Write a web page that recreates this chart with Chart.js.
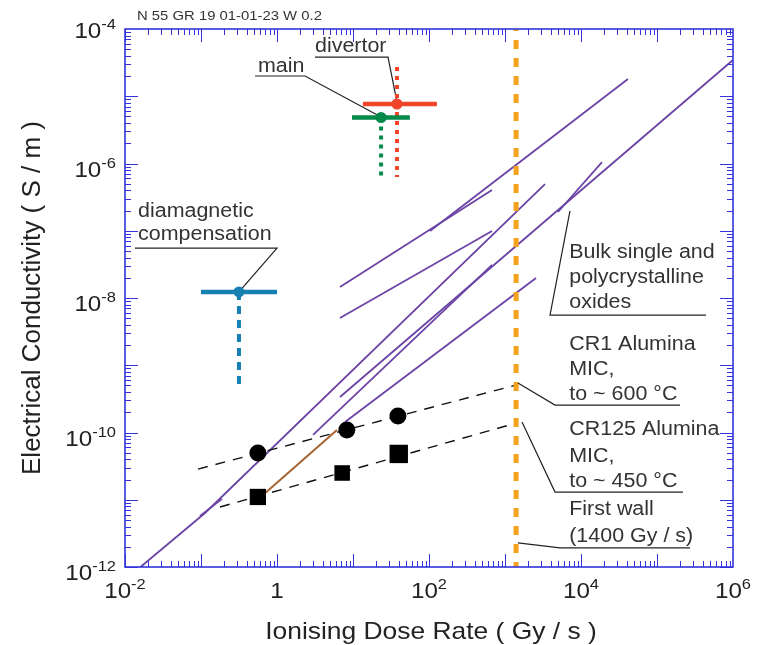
<!DOCTYPE html>
<html>
<head>
<meta charset="utf-8">
<script src="https://cdn.jsdelivr.net/npm/chart.js@4"></script>
<style>
  html, body { margin: 0; padding: 0; background: #fff; }
  #wrap { width: 758px; height: 645px; }
</style>
</head>
<body>
<div id="wrap"><canvas id="chart" width="758" height="645"></canvas></div>
<script>
// decades that carry a label
const xLabelExp = [-2, 0, 2, 4, 6];
const yLabelExp = [-12, -10, -8, -6, -4];

// bulk single and polycrystalline oxides, each line as [dose, cond, dose, cond, ...]
const oxideLines = [
  [0.016, 1e-12, 0.113, 6.35e-12, 3360, 4.95e-7],
  [6.74, 3.37e-10, 1e6, 3.46e-5],
  [2.98, 9.2e-11, 675, 3.1e-8],
  [7.85, 1.43e-10, 2560, 1.98e-8],
  [103, 9.9e-8, 41500, 1.81e-5],
  [6.74, 1.46e-8, 675, 4.04e-7],
  [6.74, 5.05e-9, 675, 9.9e-8],
  [4980, 1.9e-7, 18900, 1.05e-6],
  [0.097, 5.73e-12, 0.189, 1.03e-11]
];
const brownLine = [0.654, 1.18e-11, 6.15, 1.09e-10];

// CR1 alumina (circles) and CR125 alumina (squares)
const cr1Dose = [0.56, 8.3, 39];
const cr1Cond = [4.95e-11, 1.09e-10, 1.76e-10];
const cr125Dose = [0.56, 7.2, 40];
const cr125Cond = [1.1e-11, 2.5e-11, 4.8e-11];
const cr1Fit = [0.0914, 2.86e-11, 1400, 5.08e-10];
const cr125Fit = [0.178, 7.8e-12, 1400, 1.38e-10];

// first wall dose rate
const firstWall = 1400;

// estimated conditions: divertor, main, diamagnetic compensation
const fieldDose = [37.9, 23.4, 0.316];
const fieldDoseLo = [13.5, 9.7, 0.1];
const fieldDoseHi = [127, 56, 1];
const fieldCond = [7.67e-6, 4.83e-6, 1.23e-8];
const fieldCondTop = [2.72e-5, 4.83e-6, 1.23e-8];
const fieldCondLo = [6.3e-7, 6.3e-7, 4.75e-10];
const fieldColors = ['#f0452a', '#05894a', '#1780b2'];
const fieldDash = [[4, 5], [4, 5], [8, 6]];

// annotation leaders and texts (data coordinates)
const leaders = [
  [[3.16, 3.83e-5], [28.9, 3.83e-5], [37.9, 8.2e-6]],
  [[0.514, 2.0e-5], [2.34, 2.0e-5], [23.4, 4.9e-6]],
  [[0.01354, 5.53e-8], [1, 5.53e-8], [0.316, 1.23e-8]],
  [[7160, 1.97e-7], [3910, 5.58e-9], [441000, 5.58e-9]],
  [[1480, 5.45e-10], [4550, 2.56e-10], [201000, 2.56e-10]],
  [[1675, 1.43e-10], [4550, 1.30e-11], [220000, 1.30e-11]],
  [[1480, 2.28e-12], [5290, 1.92e-12], [272000, 1.92e-12]]
];
const notes = [
  ['divertor', 3.16, 4.55e-5],
  ['main', 0.562, 2.3e-5],
  ['diamagnetic', 0.01483, 1.6e-7],
  ['compensation', 0.01483, 7.28e-8],
  ['Bulk single and', 7000, 3.94e-8],
  ['polycrystalline', 7000, 1.67e-8],
  ['oxides', 7000, 7.1e-9],
  ['CR1 Alumina', 7000, 1.69e-9],
  ['MIC,', 7000, 7.17e-10],
  ['to ~ 600 \u00b0C', 7000, 3.04e-10],
  ['CR125 Alumina', 7000, 9.18e-11],
  ['MIC,', 7000, 3.64e-11],
  ['to ~ 450 \u00b0C', 7000, 1.55e-11],
  ['First wall', 7000, 5.93e-12],
  ['(1400 Gy / s)', 7000, 2.36e-12]
];

const PURPLE = '#6b44a6';
const AXIS = '#3434dc';
const TEXT = '#333333';
const FONT = '"Liberation Sans", Arial, sans-serif';
const SX = 1.1; // the original text is a bit wide

function pts(a) {
  const out = [];
  for (let i = 0; i < a.length; i += 2) out.push({ x: a[i], y: a[i + 1] });
  return out;
}

const datasets = [];

oxideLines.forEach((l) => {
  datasets.push({ data: pts(l), showLine: true, borderColor: PURPLE, borderWidth: 1.8, pointRadius: 0, order: 8 });
});
datasets.push({ data: pts(brownLine), showLine: true, borderColor: '#a8622e', borderWidth: 2, pointRadius: 0, order: 7 });

[cr1Fit, cr125Fit].forEach((f) => {
  datasets.push({ data: pts(f), showLine: true, borderColor: '#111', borderWidth: 1.4, borderDash: [10, 8], pointRadius: 0, order: 6 });
});

datasets.push({
  data: [{ x: firstWall, y: 1e-12 }, { x: firstWall, y: 1e-4 }],
  showLine: true, borderColor: '#f5a21f', borderWidth: 5, borderDash: [9, 9], borderDashOffset: 4,
  borderCapStyle: 'butt', pointRadius: 0, order: 5
});

datasets.push({
  data: cr1Dose.map((d, i) => ({ x: d, y: cr1Cond[i] })),
  showLine: false, pointStyle: 'circle', pointRadius: 8.5, backgroundColor: '#000', borderColor: '#000', borderWidth: 0, order: 4
});
datasets.push({
  data: cr125Dose.map((d, i) => ({ x: d, y: cr125Cond[i] })),
  showLine: false, pointStyle: 'rect', pointRadius: [11.5, 11, 13], backgroundColor: '#000', borderColor: '#000', borderWidth: 0, order: 4
});

leaders.forEach((l) => {
  datasets.push({ data: l.map((p) => ({ x: p[0], y: p[1] })), showLine: true, borderColor: '#222', borderWidth: 1.2, pointRadius: 0, order: 3 });
});

fieldDose.forEach((d, i) => {
  datasets.push({
    data: [{ x: d, y: fieldCondTop[i] }, { x: d, y: fieldCondLo[i] }],
    showLine: true, borderColor: fieldColors[i], borderWidth: 4, borderDash: fieldDash[i],
    borderCapStyle: 'butt', pointRadius: 0, order: 2
  });
  datasets.push({
    data: [{ x: fieldDoseLo[i], y: fieldCond[i] }, { x: fieldDoseHi[i], y: fieldCond[i] }],
    showLine: true, borderColor: fieldColors[i], borderWidth: 4.5, pointRadius: 0, order: 1
  });
  datasets.push({
    data: [{ x: d, y: fieldCond[i] }],
    showLine: false, pointRadius: 5.5, backgroundColor: fieldColors[i], borderWidth: 0, order: 0
  });
});

function txt(ctx, s, x, y, size, align) {
  ctx.save();
  ctx.font = size + 'px ' + FONT;
  const w = ctx.measureText(s).width * SX;
  let x0 = x;
  if (align === 'center') x0 = x - w / 2;
  else if (align === 'right') x0 = x - w;
  ctx.translate(x0, y);
  ctx.scale(SX, 1);
  ctx.textAlign = 'left';
  ctx.textBaseline = 'alphabetic';
  ctx.fillText(s, 0, 0);
  ctx.restore();
  return w;
}

function width(ctx, s, size) {
  ctx.font = size + 'px ' + FONT;
  return ctx.measureText(s).width * SX;
}

// "10" with superscript exponent
function powLabel(ctx, e, x, y, align) {
  if (e === 0) {
    txt(ctx, '1', x, y, 22, align);
    return;
  }
  const sup = String(e);
  const w1 = width(ctx, '10', 22);
  const w2 = width(ctx, sup, 15);
  const start = align === 'center' ? x - (w1 + w2) / 2 : x - (w1 + w2);
  txt(ctx, '10', start, y, 22, 'left');
  txt(ctx, sup, start + w1, y - 9, 15, 'left');
}

const frame = {
  id: 'frame',
  afterDraw(chart) {
    const ctx = chart.ctx;
    const a = chart.chartArea;
    const xs = chart.scales.x;
    const ys = chart.scales.y;

    ctx.save();
    ctx.strokeStyle = AXIS;
    ctx.lineWidth = 1;
    ctx.beginPath();
    for (let n = -2; n < 6; n++) {
      for (let k = 1; k <= 9; k++) {
        const v = k * Math.pow(10, n);
        const px = Math.round(xs.getPixelForValue(v)) + 0.5;
        const len = k === 1 ? 13 : 6;
        ctx.moveTo(px, a.bottom); ctx.lineTo(px, a.bottom - len);
        ctx.moveTo(px, a.top); ctx.lineTo(px, a.top + len);
      }
    }
    for (let n = -12; n < -4; n++) {
      for (let k = 1; k <= 9; k++) {
        const v = k * Math.pow(10, n);
        const py = Math.round(ys.getPixelForValue(v)) + 0.5;
        const len = k === 1 ? 13 : 6;
        ctx.moveTo(a.left, py); ctx.lineTo(a.left + len, py);
        ctx.moveTo(a.right, py); ctx.lineTo(a.right - len, py);
      }
    }
    ctx.stroke();
    ctx.lineWidth = 1.6;
    ctx.strokeRect(a.left, a.top, a.right - a.left, a.bottom - a.top);

    ctx.fillStyle = '#222';
    xLabelExp.forEach((e) => {
      powLabel(ctx, e, xs.getPixelForValue(Math.pow(10, e)), a.bottom + 31, 'center');
    });
    yLabelExp.forEach((e) => {
      const py = ys.getPixelForValue(Math.pow(10, e));
      powLabel(ctx, e, a.left - 9, e === -4 ? py + 9 : py + 13, 'right');
    });

    txt(ctx, 'Ionising Dose Rate ( Gy / s )', (a.left + a.right) / 2 + 2, a.bottom + 72, 24, 'center');
    ctx.save();
    ctx.translate(40, (a.top + a.bottom) / 2);
    ctx.rotate(-Math.PI / 2);
    ctx.font = '26px ' + FONT;
    ctx.textAlign = 'center';
    ctx.fillText('Electrical Conductivity ( S / m )', 0, 0);
    ctx.restore();

    ctx.fillStyle = TEXT;
    txt(ctx, 'N 55 GR 19 01-01-23 W 0.2', a.left + 12, a.top - 9, 13.5, 'left');
    notes.forEach((n) => {
      txt(ctx, n[0], xs.getPixelForValue(n[1]), ys.getPixelForValue(n[2]), 19.5, 'left');
    });
    ctx.restore();
  }
};

new Chart(document.getElementById('chart'), {
  type: 'scatter',
  data: { datasets },
  options: {
    responsive: false,
    animation: false,
    layout: { padding: { left: 125, right: 25, top: 29, bottom: 78 } },
    plugins: { legend: { display: false }, tooltip: { enabled: false } },
    scales: {
      x: { type: 'logarithmic', min: 0.01, max: 1e6, display: false },
      y: { type: 'logarithmic', min: 1e-12, max: 1e-4, display: false }
    }
  },
  plugins: [frame]
});
</script>
</body>
</html>
